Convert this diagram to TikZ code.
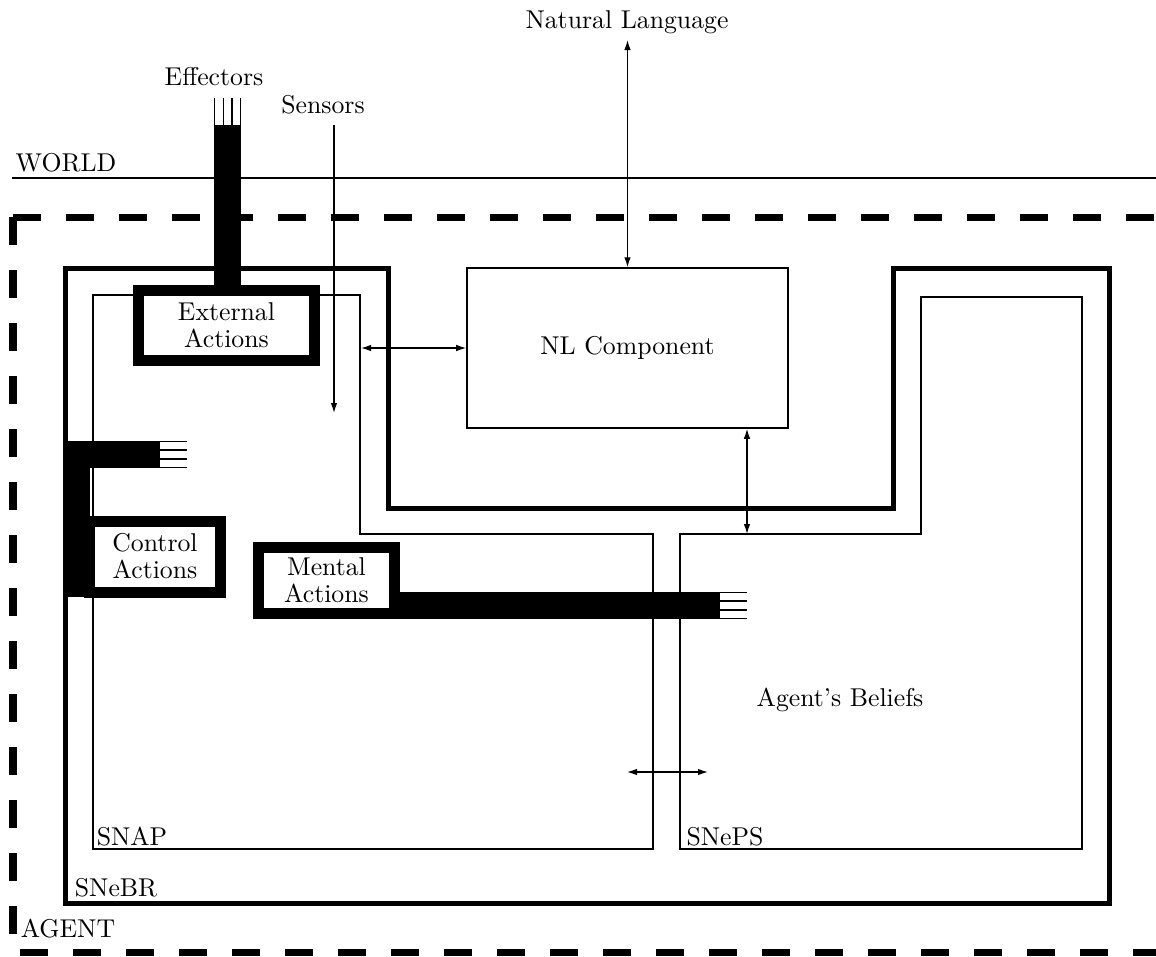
\documentclass[tikz,border=0pt]{standalone}
\usepackage{tikz}
\usetikzlibrary{arrows.meta, positioning}

\begin{document}
\begin{tikzpicture}[
  x=0.4pt, y=-0.4pt,
  every node/.style={font=\fontsize{10.3}{10.8}\selectfont},
  tag/.style={inner sep=0pt},
  actbox/.style={draw, line width=4.4pt, fill=white, align=center, inner sep=0pt},
  nlbox/.style={draw, line width=0.6pt, minimum width=128.4pt, minimum height=64pt},
  region/.style={line width=0.6pt},
  brwall/.style={line width=2pt},
  agentline/.style={line width=2.8pt, dash pattern=on 11.2pt off 10pt},
  bar/.style={fill=black},
  wire/.style={line width=0.6pt},
  arrow/.style={-{Latex[length=4pt,width=2.6pt]}, line width=0.5pt},
  biarrow/.style={{Latex[length=4pt,width=2.6pt]}-{Latex[length=4pt,width=2.6pt]}, line width=0.5pt}
]
\useasboundingbox (0,0) rectangle (1156,956);

% World / agent boundary
\node[tag] (world) at (66,163) {WORLD};
\draw[line width=0.6pt] (12,178) -- (1156,178);
\draw[agentline] (13,217) -- (1156,217);
\draw[agentline] (13,217) -- (13,952) -- (1156,952);
\node[tag] (agent) at (68,929) {AGENT};

% SNeBR wall
\draw[brwall] (65,268) -- (388,268) -- (388,508) -- (893,508) -- (893,268)
  -- (1109,268) -- (1109,903) -- (65,903) -- cycle;
\node[tag] (snebr) at (116,888) {SNeBR};

% SNAP and SNePS regions
\draw[region] (93,295) -- (360,295) -- (360,534) -- (653,534) -- (653,849) -- (93,849) -- cycle;
\draw[region] (680,849) -- (680,534) -- (921,534) -- (921,297) -- (1082,297) -- (1082,849) -- cycle;
\node[tag] (snap) at (132,837) {SNAP};
\node[tag] (sneps) at (725,837) {SNePS};
\node[tag] (beliefs) at (840,700) {Agent's Beliefs};

% NL component
\node[nlbox] (nl) at (627.5,348) {NL Component};
\node[tag] (natlang) at (627,22) {Natural Language};
\coordinate (nlin) at (627.5,40);
\coordinate (snapdock) at (361,348);
\coordinate (snepsdock) at (747,534);
\draw[biarrow] (nlin) -- (nl.north);
\draw[biarrow] (snapdock) -- (nl.west);
\draw[biarrow] (snepsdock |- nl.south) -- (snepsdock);

% Effectors and external actions
\node[tag] (effectors) at (214,77) {Effectors};
\fill[bar] (214,125) rectangle (241,292);
\foreach \x in {214.5,223.5,232,240.5}
  \draw[wire] (\x,98) -- (\x,125);
\node[actbox, minimum width=70.4pt, minimum height=28pt] (ext) at (226.5,325.5) {External\\Actions};

% Sensors
\node[tag] (sensors) at (323,105) {Sensors};
\coordinate (sensin) at (334,125);
\coordinate (sensout) at (334,413);
\draw[arrow] (sensin) -- (sensout);

% Control actions
\fill[bar] (65,441) rectangle (90,597);
\fill[bar] (65,441) rectangle (160,468);
\foreach \y in {441.5,450,459,467.5}
  \draw[wire] (160,\y) -- (187,\y);
\node[actbox, minimum width=52pt, minimum height=28.4pt] (ctrl) at (155,556.5) {Control\\Actions};

% Mental actions
\fill[bar] (395,592) rectangle (720,619);
\foreach \y in {592.5,601,610,618.5}
  \draw[wire] (720,\y) -- (747,\y);
\node[actbox, minimum width=54.4pt, minimum height=26.4pt] (mental) at (326.5,580.5) {Mental\\Actions};

% SNAP <-> SNePS
\coordinate (belL) at (627,772);
\coordinate (belR) at (708,772);
\draw[biarrow] (belL) -- (belR);

\end{tikzpicture}
\end{document}
